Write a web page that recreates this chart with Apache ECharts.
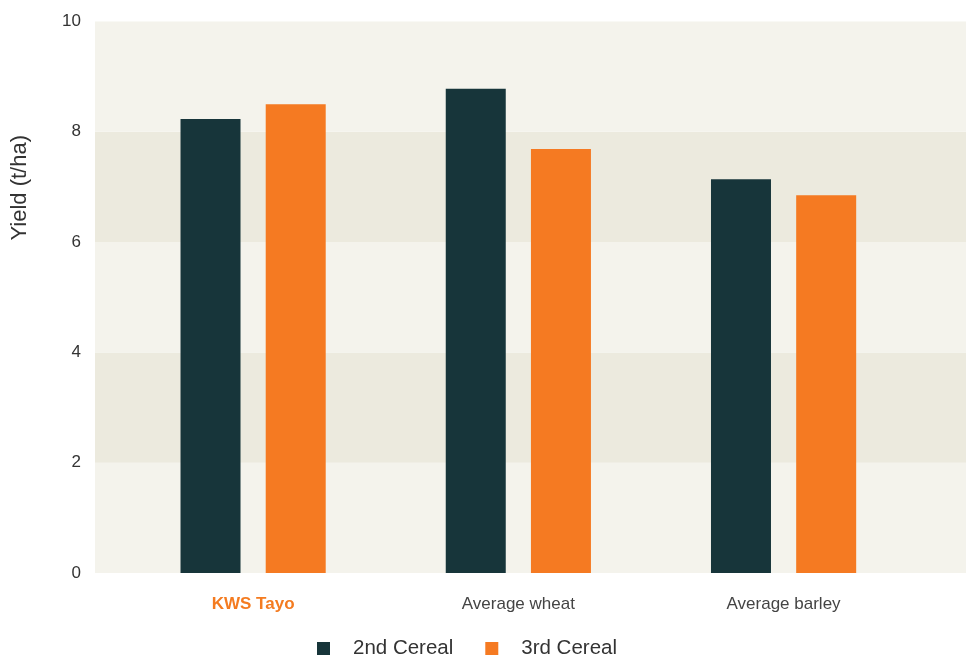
<!DOCTYPE html>
<html><head><meta charset="utf-8">
<script src="https://cdn.jsdelivr.net/npm/echarts@6/dist/echarts.min.js"></script>
<style>html,body{margin:0;padding:0;background:#fff}#c{width:966px;height:657px}</style>
</head><body><div id="c"></div>
<script>
const categories = ['KWS Tayo', 'Average wheat', 'Average barley'];
const secondCereal = [8.23, 8.78, 7.14];
const thirdCereal = [8.50, 7.69, 6.85];
const yTicks = [0, 2, 4, 6, 8, 10];
const seriesNames = ['2nd Cereal', '3rd Cereal'];

const font = 'Liberation Sans, Arial, sans-serif';
const chart = echarts.init(document.getElementById('c'));
chart.setOption({
  animation: false,
  backgroundColor: '#ffffff',
  textStyle: { fontFamily: font },
  grid: [
    { left: 95, right: 0, top: 21.5, bottom: 84, containLabel: false },
    { left: 120.5, right: 49.8, top: 21.5, bottom: 84, containLabel: false }
  ],
  legend: {
    left: 312, top: 633,
    itemWidth: 13, itemHeight: 13, itemGap: 32,
    icon: 'rect',
    textStyle: { fontSize: 20.5, color: '#333', fontFamily: font, padding: [0, 0, 0, 18] },
    data: seriesNames
  },
  xAxis: [
    { gridIndex: 0, type: 'category', data: categories, show: false },
    {
      gridIndex: 1, type: 'category', data: categories,
      axisLine: { show: false }, axisTick: { show: false },
      axisLabel: {
        margin: 23, fontSize: 17, color: '#444', fontFamily: font,
        formatter: function (v) { return v === 'KWS Tayo' ? '{hl|' + v + '}' : v; },
        rich: { hl: { color: '#f47b20', fontWeight: 'bold', fontSize: 17, fontFamily: font } }
      }
    }
  ],
  yAxis: [
    {
      gridIndex: 0, type: 'value', min: yTicks[0], max: yTicks[yTicks.length - 1], interval: 2,
      axisLine: { show: false }, axisTick: { show: false },
      splitLine: { show: false },
      splitArea: { show: true, areaStyle: { color: ['#f4f3ec', '#eceade'] } },
      axisLabel: { fontSize: 17, color: '#333', margin: 14, fontFamily: font, padding: [0, 0, 5, 0] }
    },
    {
      gridIndex: 1, type: 'value', min: 0, max: 10, interval: 2, show: false
    }
  ],
  graphic: [{
    type: 'text', left: 9, top: 135, rotation: Math.PI / 2,
    style: { text: 'Yield (t/ha)', fontSize: 22, fill: '#333', fontFamily: font }
  }],
  series: [
    {
      name: seriesNames[0], type: 'bar', xAxisIndex: 1, yAxisIndex: 1,
      data: secondCereal, barWidth: 60, barGap: '42%',
      itemStyle: { color: '#17353a' }
    },
    {
      name: seriesNames[1], type: 'bar', xAxisIndex: 1, yAxisIndex: 1,
      data: thirdCereal, barWidth: 60, barGap: '42%',
      itemStyle: { color: '#f57a22' }
    }
  ]
});
</script></body></html>
